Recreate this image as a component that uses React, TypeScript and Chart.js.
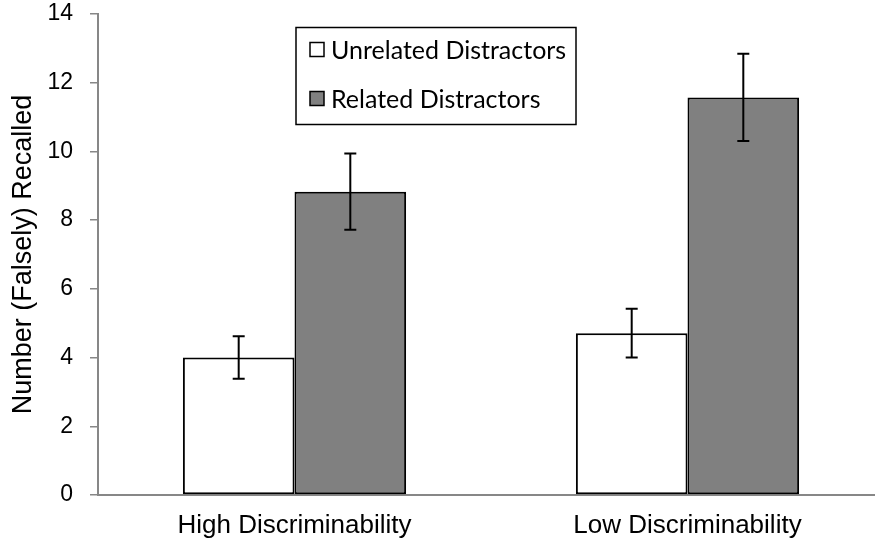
import { useEffect, useRef } from "react";
import { Chart, registerables } from "chart.js";

Chart.register(...registerables);

const categories = ["High Discriminability", "Low Discriminability"];
const seriesNames = ["Unrelated Distractors", "Related Distractors"];
const unrelatedValues = [4.0, 4.71];
const relatedValues = [8.83, 11.57];
const unrelatedErrors = [0.62, 0.71];
const relatedErrors = [1.11, 1.27];
const seriesColors = ["#ffffff", "#808080"];
const yTicks = [0, 2, 4, 6, 8, 10, 12, 14];
const yAxisTitle = "Number (Falsely) Recalled";

const AXIS_COLOR = "#878787";
const SANS = "Liberation Sans, Arial, sans-serif";

const errorBarPlugin = {
  id: "errorBars",
  afterDatasetsDraw(chart: any) {
    const ctx = chart.ctx;
    const yScale = chart.scales.y;
    chart.data.datasets.forEach((ds: any, di: number) => {
      const meta = chart.getDatasetMeta(di);
      const errs: number[] = ds.errors || [];
      meta.data.forEach((bar: any, i: number) => {
        const v = ds.data[i];
        const e = errs[i];
        if (e == null) return;
        const yt = yScale.getPixelForValue(v + e);
        const yb = yScale.getPixelForValue(v - e);
        const cap = 6;
        ctx.save();
        ctx.strokeStyle = "#000";
        ctx.lineWidth = 2;
        ctx.beginPath();
        ctx.moveTo(bar.x, yt);
        ctx.lineTo(bar.x, yb);
        ctx.moveTo(bar.x - cap, yt);
        ctx.lineTo(bar.x + cap, yt);
        ctx.moveTo(bar.x - cap, yb);
        ctx.lineTo(bar.x + cap, yb);
        ctx.stroke();
        ctx.restore();
      });
    });
  },
};

const legendPlugin = {
  id: "boxLegend",
  afterDraw(chart: any) {
    const ctx = chart.ctx;
    const area = chart.chartArea;
    const left = area.left + 198;
    const top = area.top + 13.5;
    const w = 280;
    const h = 97;
    ctx.save();
    ctx.fillStyle = "#fff";
    ctx.fillRect(left, top, w, h);
    ctx.strokeStyle = "#000";
    ctx.lineWidth = 1.5;
    ctx.strokeRect(left, top, w, h);
    const rows = [top + 22, top + 71];
    chart.data.datasets.forEach((ds: any, i: number) => {
      const cy = rows[i];
      ctx.fillStyle = ds.backgroundColor;
      ctx.fillRect(left + 14, cy - 7, 14, 14);
      ctx.strokeStyle = "#000";
      ctx.lineWidth = 1.5;
      ctx.strokeRect(left + 14, cy - 7, 14, 14);
      ctx.fillStyle = "#000";
      ctx.font = "25px Lato";
      ctx.textBaseline = "middle";
      ctx.textAlign = "left";
      ctx.fillText(ds.label, left + 35, cy + 1);
    });
    ctx.restore();
  },
};

export default function App() {
  const canvasRef = useRef<HTMLCanvasElement | null>(null);

  useEffect(() => {
    let chart: Chart | null = null;
    let cancelled = false;
    const create = () => {
      if (cancelled || !canvasRef.current) return;
      chart = new Chart(canvasRef.current, {
        type: "bar",
        data: {
          labels: categories,
          datasets: [
            {
              label: seriesNames[0],
              data: unrelatedValues,
              errors: unrelatedErrors,
              backgroundColor: seriesColors[0],
              borderColor: "#000",
              borderWidth: 2,
              borderSkipped: false,
              categoryPercentage: 0.568,
              barPercentage: 1,
            } as any,
            {
              label: seriesNames[1],
              data: relatedValues,
              errors: relatedErrors,
              backgroundColor: seriesColors[1],
              borderColor: "#000",
              borderWidth: 2,
              borderSkipped: false,
              categoryPercentage: 0.568,
              barPercentage: 1,
            } as any,
          ],
        },
        options: {
          animation: false,
          responsive: true,
          maintainAspectRatio: false,
          layout: { padding: { left: 0, right: 16, top: 14, bottom: 0 } },
          plugins: {
            legend: { display: false },
            tooltip: { enabled: false },
          },
          scales: {
            x: {
              grid: { display: false, drawTicks: false },
              border: { display: true, color: AXIS_COLOR, width: 2 },
              ticks: {
                color: "#000",
                font: { family: SANS, size: 26 },
                padding: 15,
                maxRotation: 0,
                autoSkip: false,
              },
              afterFit: (scale: any) => {
                scale.height = 56;
                scale.paddingTop = 0;
              },
            },
            y: {
              min: 0,
              max: 14,
              afterBuildTicks: (scale: any) => {
                scale.ticks = yTicks.map((v) => ({ value: v }));
              },
              grid: {
                display: true,
                drawOnChartArea: false,
                drawTicks: true,
                tickLength: 8,
                color: AXIS_COLOR,
                lineWidth: 1.5,
              },
              border: { display: true, color: AXIS_COLOR, width: 2 },
              ticks: {
                color: "#000",
                font: { family: SANS, size: 23 },
                padding: 17,
              },
              title: {
                display: true,
                text: yAxisTitle,
                color: "#000",
                font: { family: SANS, size: 27 },
                padding: { top: 7, bottom: 0 },
              },
              afterFit: (scale: any) => {
                scale.width = 98;
                scale.paddingTop = 0;
                scale.paddingBottom = 0;
              },
            },
          },
        } as any,
        plugins: [errorBarPlugin, legendPlugin],
      });
    };
    const fonts: any = (document as any).fonts;
    if (fonts && fonts.load) {
      Promise.all([
        fonts.load("25px Lato"),
        fonts.load("25px 'Liberation Sans'"),
      ])
        .catch(() => {})
        .then(create);
    } else {
      create();
    }
    return () => {
      cancelled = true;
      if (chart) chart.destroy();
    };
  }, []);

  return (
    <div
      style={{
        position: "fixed",
        left: 0,
        top: 0,
        width: 875,
        height: 551,
        overflow: "hidden",
        background: "#fff",
      }}
    >
      <div style={{ position: "relative", width: 900, height: 551 }}>
        <canvas ref={canvasRef} />
      </div>
    </div>
  );
}
